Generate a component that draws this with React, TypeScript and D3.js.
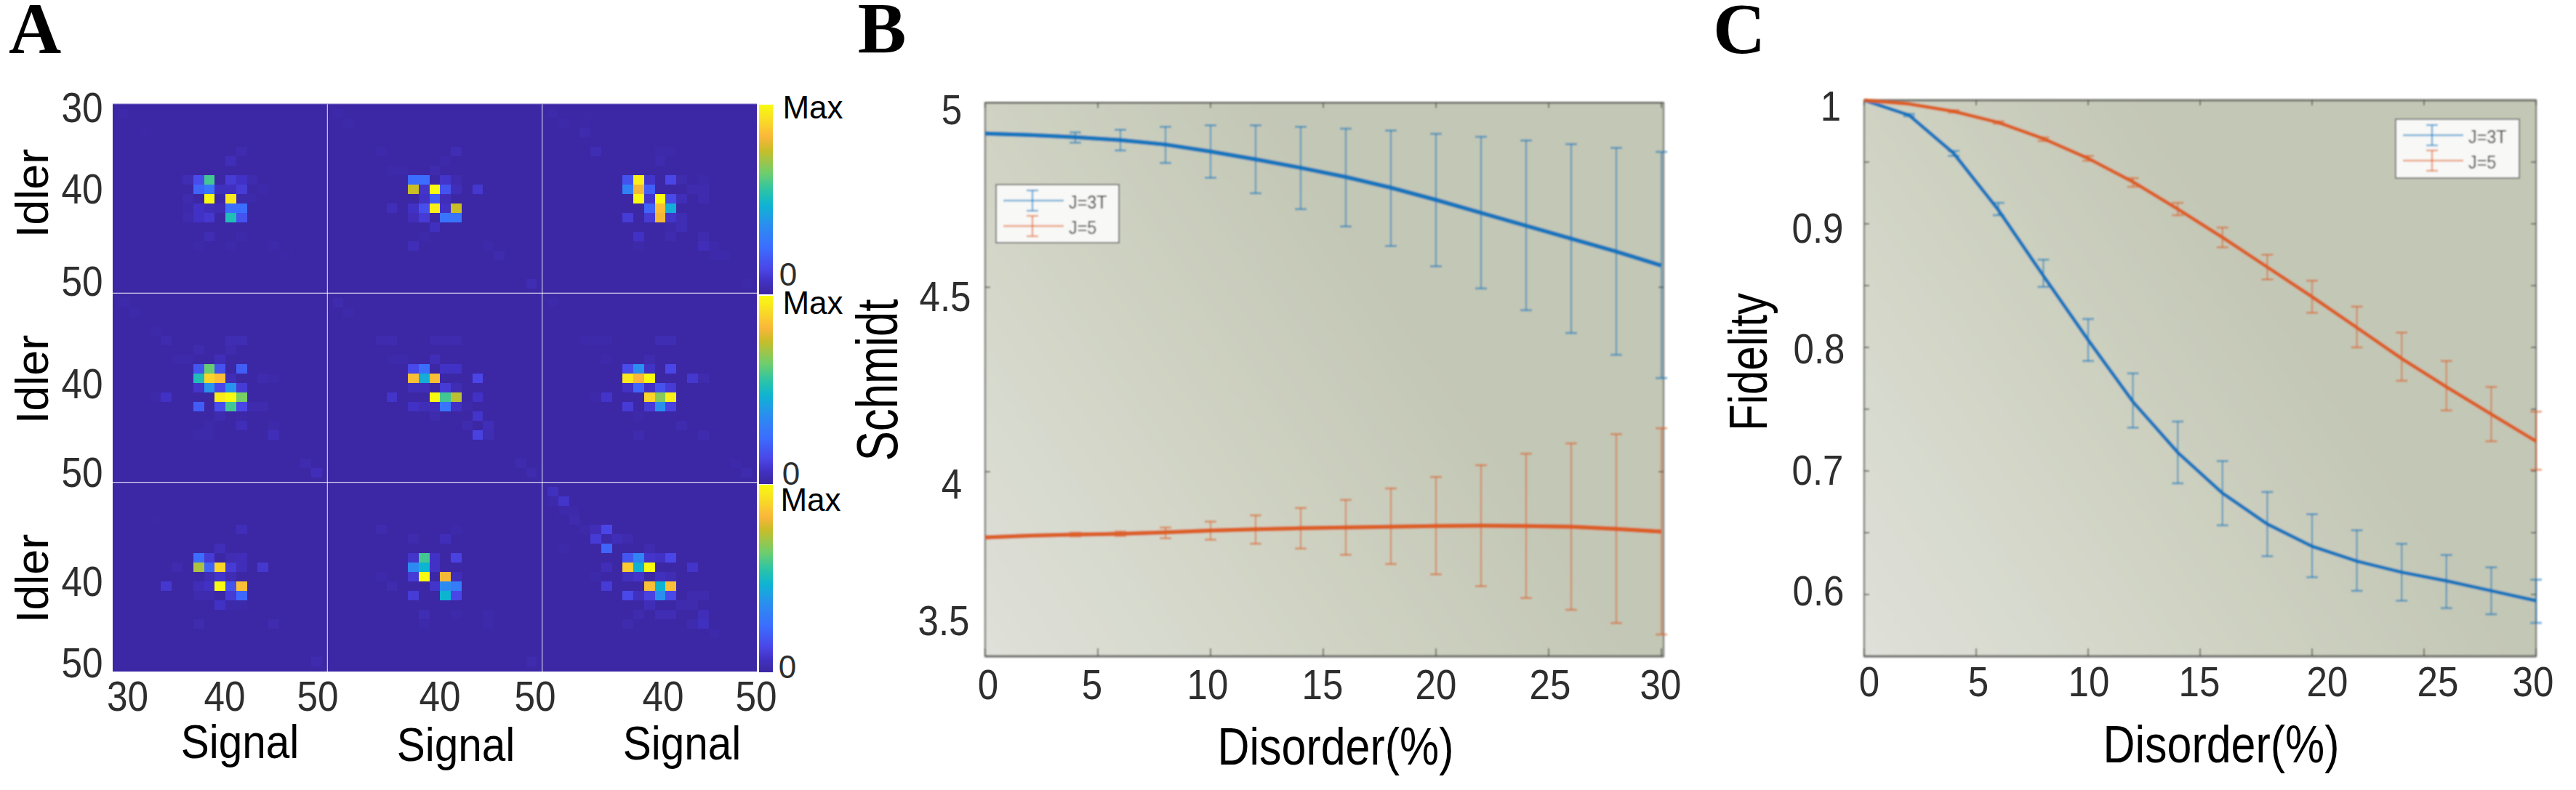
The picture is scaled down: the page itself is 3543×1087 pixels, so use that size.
import React from "react";
import * as d3 from "d3";

// ---------- Panel A data: [idler index, signal index, intensity], index 0 = 30, 20 = 50
type Cell = [number, number, number];
const r1c1: Cell[] = [[1,1,.015],[3,3,.01],[5,12,.03],[6,11,.05],[8,7,.04],[8,8,.15],[8,9,.58],[8,11,.1],[8,12,.07],[8,13,.03],[9,8,.22],[9,9,.27],[9,10,.06],[9,11,.06],[9,12,.1],[9,14,.02],[10,7,.03],[10,9,1],[10,11,.95],[10,12,.02],[10,13,.02],[11,7,.02],[11,8,.07],[11,9,.05],[11,10,.04],[11,11,.25],[11,12,.25],[12,7,.03],[12,8,.07],[12,9,.09],[12,11,.52],[12,12,.17],[14,9,.04],[14,12,.02],[15,8,.02],[15,11,.02],[15,15,.02],[16,16,.01]];
const r1c2: Cell[] = [[1,1,.02],[2,2,.02],[5,5,.02],[5,12,.04],[6,11,.02],[7,6,.02],[7,7,.02],[7,10,.03],[8,8,.25],[8,9,.25],[8,11,.08],[8,12,.03],[9,8,.76],[9,9,.08],[9,10,1],[9,11,.17],[9,12,.05],[9,14,.09],[10,9,.07],[10,10,.2],[10,11,.05],[11,6,.05],[11,8,.07],[11,9,.16],[11,10,.97],[11,11,.07],[11,12,.76],[12,8,.05],[12,9,.1],[12,11,.27],[12,12,.27],[13,10,.06],[14,9,.02],[15,8,.05],[15,15,.02],[16,16,.03],[19,19,.04]];
const r1c3: Cell[] = [[1,1,.02],[2,2,.02],[2,4,.01],[3,4,.03],[5,5,.04],[5,11,.02],[5,12,.02],[6,11,.03],[8,8,.17],[8,9,.97],[8,10,.08],[8,12,.13],[8,13,.03],[8,15,.02],[9,8,.32],[9,9,.82],[9,10,.2],[9,14,.03],[9,15,.03],[10,9,1],[10,10,.08],[10,11,1],[10,12,.14],[10,13,.05],[10,15,.03],[11,10,.22],[11,11,.85],[11,12,.45],[12,8,.1],[12,10,.1],[12,11,.82],[12,12,.08],[12,13,.04],[13,12,.02],[13,13,.04],[14,9,.07],[14,12,.03],[14,15,.03],[15,9,.02],[15,15,.05],[15,16,.02],[16,16,.02],[16,17,.02],[19,19,.02]];
const r2c1: Cell[] = [[1,1,.02],[2,2,.02],[4,4,.02],[5,5,.03],[5,11,.04],[5,12,.04],[6,8,.03],[6,11,.03],[7,6,.02],[7,7,.02],[7,10,.05],[8,8,.18],[8,9,.63],[8,10,.17],[8,12,.2],[9,8,.52],[9,9,.9],[9,10,.85],[9,11,.05],[9,14,.03],[9,15,.02],[10,8,.08],[10,9,.38],[10,10,.14],[10,11,.38],[10,12,.1],[11,4,.02],[11,5,.07],[11,10,.96],[11,11,1],[11,12,.65],[12,8,.2],[12,10,.15],[12,11,.58],[12,12,.13],[12,13,.03],[12,14,.03],[13,10,.03],[13,12,.01],[14,9,.02],[14,12,.05],[14,15,.02],[15,8,.02],[15,9,.02],[15,15,.05],[18,18,.03],[19,19,.05]];
const r2c2: Cell[] = [[1,1,.03],[2,2,.02],[5,5,.03],[5,6,.03],[5,10,.03],[5,11,.03],[5,12,.03],[7,6,.02],[7,7,.02],[7,10,.05],[8,8,.14],[8,9,.25],[8,11,.07],[8,12,.07],[9,8,.85],[9,9,.45],[9,10,.85],[9,14,.13],[10,8,.05],[10,9,.05],[10,11,.1],[10,12,.04],[11,6,.08],[11,10,1],[11,11,.58],[11,12,.74],[11,14,.07],[12,8,.07],[12,9,.05],[12,10,.05],[12,11,.27],[12,12,.07],[12,13,.02],[13,10,.03],[13,14,.08],[14,13,.03],[14,15,.05],[15,14,.12],[15,15,.04],[18,18,.03],[19,19,.03]];
const r2c3: Cell[] = [[1,1,.02],[5,4,.02],[5,5,.02],[5,6,.02],[5,11,.04],[5,12,.04],[7,6,.02],[7,10,.03],[8,8,.15],[8,9,.37],[8,10,.07],[8,12,.13],[9,8,.95],[9,9,.83],[9,10,1],[9,14,.09],[9,15,.03],[10,8,.07],[10,9,.22],[10,10,.07],[10,11,.17],[10,12,.1],[11,5,.02],[11,6,.08],[11,10,.9],[11,11,.67],[11,12,.97],[12,8,.1],[12,10,.1],[12,11,.37],[12,12,.12],[13,9,.02],[14,13,.03],[15,9,.03],[15,15,.03],[18,18,.02],[19,19,.03]];
const r3c1: Cell[] = [[4,4,.01],[5,12,.05],[7,10,.05],[8,8,.25],[8,9,.1],[8,11,.04],[8,12,.05],[9,6,.03],[9,8,.72],[9,9,.22],[9,10,.9],[9,11,.1],[9,12,.05],[9,14,.09],[10,9,.04],[10,10,.08],[10,11,.04],[11,5,.09],[11,8,.05],[11,9,.07],[11,10,1],[11,11,.17],[11,12,.85],[12,8,.03],[12,9,.03],[12,11,.1],[12,12,.23],[13,10,.07],[13,11,.02],[13,12,.02],[15,8,.03],[15,15,.03],[19,19,.03]];
const r3c2: Cell[] = [[5,5,.03],[5,12,.02],[6,8,.03],[6,11,.05],[8,8,.08],[8,9,.58],[8,10,.07],[8,12,.12],[9,8,.35],[9,9,.47],[9,10,.07],[10,5,.02],[10,8,.1],[10,9,1],[10,11,.82],[10,12,.05],[11,6,.03],[11,10,.08],[11,11,.35],[11,12,.3],[12,8,.1],[12,11,.47],[12,12,.13],[14,9,.04],[14,12,.02],[14,15,.02],[15,9,.02],[15,15,.02],[19,19,.03]];
const r3c3: Cell[] = [[1,1,.06],[2,1,.02],[2,2,.08],[3,2,.02],[3,3,.02],[4,3,.03],[5,4,.02],[5,5,.05],[5,6,.13],[6,5,.1],[6,6,.02],[6,7,.05],[6,8,.03],[7,2,.02],[7,6,.22],[7,10,.03],[8,8,.18],[8,9,.33],[8,10,.08],[8,11,.07],[8,12,.13],[9,6,.05],[9,8,.88],[9,9,.46],[9,10,1],[9,14,.08],[10,5,.02],[10,8,.06],[10,9,.08],[10,11,.06],[10,12,.04],[11,6,.1],[11,10,.85],[11,11,.47],[11,12,.85],[12,8,.14],[12,9,.06],[12,10,.12],[12,11,.37],[12,12,.14],[12,14,.03],[12,15,.03],[13,10,.05],[13,13,.03],[13,14,.03],[14,9,.03],[14,11,.04],[14,12,.04],[14,15,.05],[15,8,.03],[15,14,.03],[15,15,.06],[16,16,.02]];
const heatPanels = [r1c1, r1c2, r1c3, r2c1, r2c2, r2c3, r3c1, r3c2, r3c3];

// colour bar stops, value -> colour
const cmapStops = [0, .03, .07, .13, .25, .37, .47, .55, .64, .76, .83, .9, 1];
const cmapColors = ["#3c27a5", "#3e2bad", "#4131c4", "#4a45e6", "#3b6eff", "#2a8fef", "#0db4d2", "#2cc4a6", "#6fce6c", "#c9bd28", "#fbb63b", "#f9d52a", "#f8fb10"];

// ---------- Panels B, C data
const disorder = d3.range(0, 31, 2);

const schmidtBlue = [4.917,4.913,4.907,4.899,4.887,4.868,4.847,4.824,4.799,4.77,4.737,4.702,4.667,4.632,4.597,4.559];
const schmidtBlueHi = [4.917,4.913,4.92,4.927,4.935,4.939,4.939,4.935,4.93,4.925,4.916,4.908,4.898,4.888,4.878,4.867];
const schmidtBlueLo = [4.917,4.913,4.892,4.871,4.837,4.797,4.755,4.712,4.665,4.612,4.557,4.497,4.438,4.376,4.317,4.254];
const schmidtOrange = [3.822,3.827,3.83,3.832,3.836,3.841,3.844,3.847,3.849,3.851,3.853,3.854,3.853,3.851,3.845,3.838];
const schmidtOrangeHi = [3.822,3.827,3.835,3.838,3.849,3.865,3.882,3.902,3.924,3.955,3.986,4.018,4.049,4.077,4.102,4.118];
const schmidtOrangeLo = [3.822,3.827,3.825,3.826,3.82,3.816,3.805,3.792,3.775,3.75,3.722,3.69,3.658,3.626,3.59,3.559];

const fidelityBlue = [1,.988,.957,.911,.858,.806,.756,.715,.682,.657,.639,.627,.618,.611,.603,.595];
const fidelityBlueHi = [1,.989,.959,.917,.871,.823,.779,.74,.708,.683,.665,.652,.641,.632,.622,.612];
const fidelityBlueLo = [1,.987,.955,.907,.849,.789,.735,.69,.656,.631,.614,.603,.595,.589,.584,.577];
const fidelityOrange = [1,.997,.991,.982,.969,.953,.934,.912,.889,.865,.841,.816,.791,.768,.746,.724];
const fidelityOrangeHi = [1,.997,.992,.983,.97,.955,.937,.917,.897,.875,.854,.833,.812,.789,.768,.748];
const fidelityOrangeLo = [1,.997,.99,.981,.967,.951,.93,.907,.881,.855,.828,.8,.773,.749,.724,.701];

const legendLabels = ["J=3T", "J=5"];
const xTicks = [0, 5, 10, 15, 20, 25, 30];
const BLUE = "#0a72bd";
const ORANGE = "#dc5a20";
const SANS = "'Liberation Sans', Arial, sans-serif";

function T({ x, y, s, size, sx = 1, sy = 1, fill = "#2e2e2e", rot = 0, anchor = "middle" }: any) {
  return (
    <text
      transform={`translate(${x},${y}) rotate(${rot}) scale(${sx},${sy})`}
      fontFamily={SANS}
      fontSize={size}
      fill={fill}
      textAnchor={anchor}
    >
      {s}
    </text>
  );
}

function HeatPanels() {
  const left = 155, right = 1041, top = 143, bottom = 924;
  const pw = (right - left) / 3, ph = (bottom - top) / 3;
  const color = d3.scaleLinear<string>().domain(cmapStops).range(cmapColors).interpolate(d3.interpolateRgb);
  const bars: [number, number][] = [[144, 405], [407, 666], [667, 925]];
  const barStops = d3.range(0, 1.0001, 0.02);
  return (
    <g>
      <defs>
        <clipPath id="heatClip"><rect x={left} y={top} width={right - left} height={bottom - top} /></clipPath>
        <linearGradient id="cbar" x1="0" y1="1" x2="0" y2="0">
          {barStops.map((v) => <stop key={v} offset={v} stopColor={color(v)} />)}
        </linearGradient>
      </defs>
      <rect x={left} y={top} width={right - left} height={bottom - top} fill={color(0)} />
      <g clipPath="url(#heatClip)" shapeRendering="crispEdges">
        {heatPanels.map((cells, i) => {
          const c = i % 3, r = Math.floor(i / 3);
          const sx = d3.scaleLinear().domain([0, 20]).range([left + c * pw, left + (c + 1) * pw]);
          const sy = d3.scaleLinear().domain([0, 20]).range([top + r * ph, top + (r + 1) * ph]);
          return cells.map(([ky, kx, v], j) => {
            const x0 = Math.max(sx(kx - 0.5), left + c * pw), x1 = Math.min(sx(kx + 0.5), left + (c + 1) * pw);
            const y0 = Math.max(sy(ky - 0.5), top + r * ph), y1 = Math.min(sy(ky + 0.5), top + (r + 1) * ph);
            return <rect key={`${i}-${j}`} x={x0} y={y0} width={x1 - x0} height={y1 - y0} fill={color(v)} />;
          });
        })}
      </g>
      {[1, 2].map((c) => (
        <line key={c} x1={left + c * pw} x2={left + c * pw} y1={top} y2={bottom} stroke="#fff" strokeOpacity={0.75} strokeWidth={1.2} />
      ))}
      {[1, 2].map((r) => (
        <line key={r} x1={left} x2={right} y1={top + r * ph} y2={top + r * ph} stroke="#fff" strokeOpacity={0.8} strokeWidth={1.4} />
      ))}
      <line x1={left} x2={right} y1={top} y2={top} stroke="#8a7fd0" strokeWidth={1.2} />
      {bars.map(([a, b], i) => (
        <rect key={i} x={1044} y={a} width={19} height={b - a} fill="url(#cbar)" />
      ))}
      {[168, 280, 407, 548, 670, 820, 932].map((b, i) => (
        <T key={i} x={113} y={b} s={["30", "40", "50", "40", "50", "40", "50"][i]} size={57} sx={0.9} />
      ))}
      {[[175.5, "30"], [309, "40"], [437, "50"], [605, "40"], [736, "50"], [912, "40"], [1040, "50"]].map(([x, s], i) => (
        <T key={i} x={x} y={978} s={s} size={57} sx={0.9} />
      ))}
      {[266, 522, 796].map((cy, i) => (
        <T key={i} x={66} y={cy} s="Idler" size={63} rot={-90} fill="#000" />
      ))}
      {[[330, 1043], [627, 1047], [938, 1045]].map(([x, y], i) => (
        <T key={i} x={x} y={y} s="Signal" size={65} sx={0.9} fill="#000" />
      ))}
      {[[1118, 163], [1118, 432], [1115, 703]].map(([x, y], i) => (
        <T key={i} x={x} y={y} s="Max" size={44} fill="#000" />
      ))}
      {[[1084, 393], [1088, 667], [1083, 933]].map(([x, y], i) => (
        <T key={i} x={x} y={y} s="0" size={44} />
      ))}
    </g>
  );
}

function LinePanel({ id, box, yDomain, yMinor, series, legend, lineW, yLabels, xLabels }: any) {
  const x = d3.scaleLinear().domain([0, 30]).range([box.x0, box.x30]);
  const y = d3.scaleLinear().domain(yDomain).range([box.bottom, box.top]);
  const line = d3.line<number>().x((_, i) => x(disorder[i])).y((v) => y(v));
  return (
    <g>
      <defs>
        <linearGradient id={`bg${id}`} gradientUnits="userSpaceOnUse" x1={box.x0} y1={box.bottom} x2={box.x0 + 620} y2={box.bottom - 420}>
          <stop offset="0" stopColor="#dfe1da" />
          <stop offset="0.55" stopColor="#d0d3c3" />
          <stop offset="1" stopColor="#c3c7b5" />
        </linearGradient>
        <filter id={`blur${id}`} filterUnits="userSpaceOnUse" x={box.x0 - 30} y={box.top - 30} width={box.right - box.x0 + 60} height={box.bottom - box.top + 60}>
          <feGaussianBlur stdDeviation="0.9" />
        </filter>
      </defs>
      <g filter={`url(#blur${id})`}>
        <rect x={box.x0} y={box.top} width={box.right - box.x0} height={box.bottom - box.top} fill={`url(#bg${id})`} stroke="#85877f" strokeWidth={2.5} />
        <line x1={box.x0} x2={box.right} y1={box.bottom} y2={box.bottom} stroke="#6f706a" strokeWidth={3} />
        <line x1={box.x0} x2={box.right} y1={box.top} y2={box.top} stroke="#75766f" strokeWidth={3} />
        {xTicks.map((t) => (
          <g key={t} stroke="#55564f" strokeWidth={1.6}>
            <line x1={x(t)} x2={x(t)} y1={box.bottom} y2={box.bottom - 11} />
            <line x1={x(t)} x2={x(t)} y1={box.top} y2={box.top + 7} />
          </g>
        ))}
        {yMinor.map((t: number) => (
          <g key={t} stroke="#55564f" strokeWidth={1.6}>
            <line x1={box.x0} x2={box.x0 + 7} y1={y(t)} y2={y(t)} />
            <line x1={box.right} x2={box.right - 7} y1={y(t)} y2={y(t)} />
          </g>
        ))}
        {series.map((s: any) => (
          <g key={s.color}>
            <g stroke={s.color} strokeOpacity={0.5} strokeWidth={2.4}>
              {s.hi.map((h: number, i: number) =>
                h === s.lo[i] ? null : (
                  <g key={i}>
                    <line x1={x(disorder[i])} x2={x(disorder[i])} y1={y(h)} y2={y(s.lo[i])} />
                    <line x1={x(disorder[i]) - 8} x2={x(disorder[i]) + 8} y1={y(h)} y2={y(h)} strokeWidth={3} />
                    <line x1={x(disorder[i]) - 8} x2={x(disorder[i]) + 8} y1={y(s.lo[i])} y2={y(s.lo[i])} strokeWidth={3} />
                  </g>
                )
              )}
            </g>
            <path d={line(s.mean) as string} fill="none" stroke={s.color} strokeOpacity={0.95} strokeWidth={lineW} />
          </g>
        ))}
        <rect x={legend.x} y={legend.y} width={legend.w} height={legend.h} fill="#f8f8f6" stroke="#777" strokeWidth={2} />
        {legendLabels.map((s, i) => {
          const ly = legend.y + (i === 0 ? 22 : 57);
          const c = i === 0 ? BLUE : ORANGE;
          return (
            <g key={s}>
              <g stroke={c} strokeOpacity={0.55} strokeWidth={2.4}>
                <line x1={legend.x + 10} x2={legend.x + 93} y1={ly} y2={ly} />
                <line x1={legend.x + 50} x2={legend.x + 50} y1={ly - 14} y2={ly + 14} />
                <line x1={legend.x + 42} x2={legend.x + 58} y1={ly - 14} y2={ly - 14} />
                <line x1={legend.x + 42} x2={legend.x + 58} y1={ly + 14} y2={ly + 14} />
              </g>
              <T x={legend.x + 100} y={ly + 11} s={s} size={26} sx={0.9} anchor="start" fill="#333" />
            </g>
          );
        })}
      </g>
      {xLabels.map((lx: number, i: number) => (
        <T key={i} x={lx} y={box.xLabelY} s={String(xTicks[i])} size={58} sx={0.88} />
      ))}
      {yLabels.map(([s, lx, ly]: any, i: number) => (
        <T key={i} x={lx} y={ly} s={s} size={58} sx={0.88} />
      ))}
    </g>
  );
}

export default function App() {
  const height = 1087, width = 3543;
  return (
    <svg width={width} height={height} viewBox={`0 0 ${width} ${height}`} style={{ position: "absolute", left: 0, top: 0, display: "block", background: "#fff" }}>
      <HeatPanels />
      <LinePanel
        id="B"
        box={{ x0: 1355, x30: 2285, right: 2288, top: 141.5, bottom: 903, xLabelY: 962 }}
        yDomain={[3.5, 5]}
        yMinor={[4, 4.5]}
        lineW={6}
        series={[
          { color: BLUE, mean: schmidtBlue, hi: schmidtBlueHi, lo: schmidtBlueLo },
          { color: ORANGE, mean: schmidtOrange, hi: schmidtOrangeHi, lo: schmidtOrangeLo },
        ]}
        legend={{ x: 1370, y: 254, w: 169, h: 80 }}
        xLabels={[1359, 1502, 1661, 1819, 1975, 2132, 2284]}
        yLabels={[["5", 1309, 171], ["4.5", 1300, 428], ["4", 1309, 686], ["3.5", 1298, 874]]}
      />
      <LinePanel
        id="C"
        box={{ x0: 2564, x30: 3488, right: 3488, top: 138, bottom: 903, xLabelY: 958 }}
        yDomain={[0.55, 1]}
        yMinor={[0.6, 0.65, 0.7, 0.75, 0.8, 0.85, 0.9, 0.95]}
        lineW={5}
        series={[
          { color: BLUE, mean: fidelityBlue, hi: fidelityBlueHi, lo: fidelityBlueLo },
          { color: ORANGE, mean: fidelityOrange, hi: fidelityOrangeHi, lo: fidelityOrangeLo },
        ]}
        legend={{ x: 3295, y: 164, w: 170, h: 81 }}
        xLabels={[2571, 2721, 2873, 3025, 3201, 3353, 3484]}
        yLabels={[["1", 2518, 166], ["0.9", 2500, 334], ["0.8", 2502, 500], ["0.7", 2500, 667], ["0.6", 2501, 833]]}
      />
      <T x={1234} y={523} s="Schmidt" size={79} sx={0.78} rot={-90} fill="#000" />
      <T x={2430} y={498} s="Fidelity" size={74} sx={0.81} rot={-90} fill="#000" />
      <T x={1837} y={1052} s="Disorder(%)" size={72} sx={0.846} fill="#000" />
      <T x={3055} y={1049} s="Disorder(%)" size={72} sx={0.846} fill="#000" />
      {[["A", 48, 73], ["B", 1213, 72], ["C", 2392, 73]].map(([s, x, y]) => (
        <text key={s as string} x={x as number} y={y as number} fontFamily="'Liberation Serif', 'Times New Roman', serif" fontWeight="bold" fontSize={100} textAnchor="middle" fill="#000">{s}</text>
      ))}
    </svg>
  );
}
